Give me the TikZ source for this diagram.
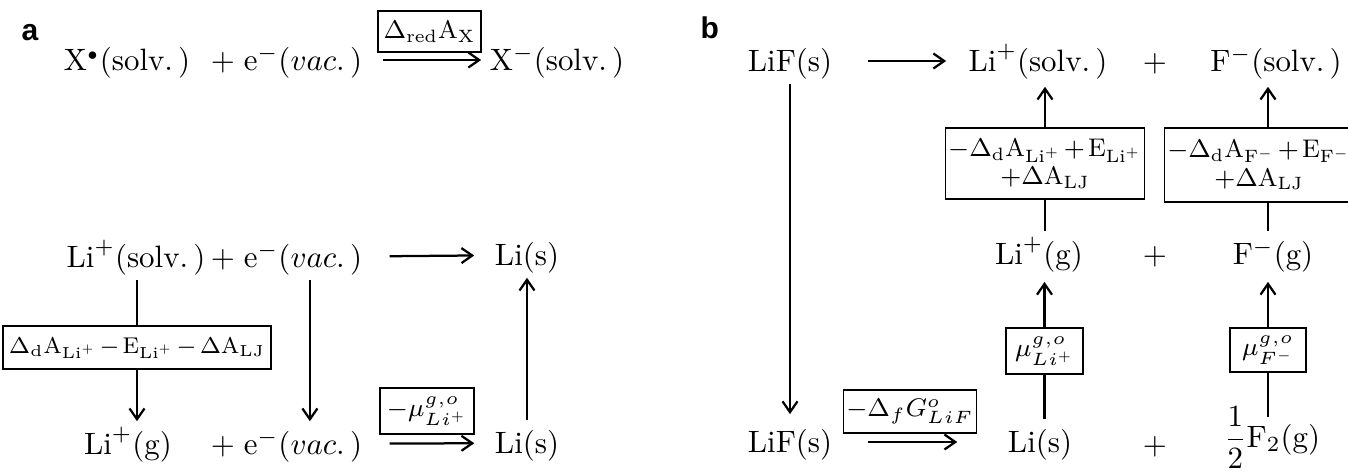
\RequirePackage{fix-cm}
\documentclass[tikz,border=0pt]{standalone}
\usepackage{amsmath}
\usepackage{amssymb}
\usepackage{fontspec}
\newfontfamily\panelfont{Liberation Sans}
\usepackage{tikz}
\usetikzlibrary{arrows.meta}

\begin{document}
\begin{tikzpicture}[x=0.3333pt, y=-0.3333pt, font=\fontsize{10.3}{12.4}\selectfont,
    >={Straight Barb[length=3.6pt,width=5pt]},
    spec/.style={inner xsep=1pt, inner ysep=0.5pt, text height=2.4ex, text depth=0.8ex},
    ebox/.style={draw, line width=0.45pt, inner sep=1pt, align=center,
      font=\fontsize{8.5}{10.5}\selectfont, execute at begin node={\medmuskip=2mu\relax}},
    conn/.style={line width=0.75pt},
    panel/.style={anchor=base west, font=\panelfont\bfseries\fontsize{10}{11}\selectfont}]
  \useasboundingbox (0,0) rectangle (1348,472);
  % a
  \node[panel] (la) at (11,40) {a};
  \node[spec] (xrad) at (127,60) {$\mathrm{X}^{\scriptscriptstyle\bullet}(\mathrm{solv.}\,)$};
  \node[spec] (pa1) at (223,60) {$+$};
  \node[spec] (ea1) at (303,60) {$\mathrm{e}^{-}(vac.\,)$};
  \node[spec] (xan) at (557,60) {$\mathrm{X}^{-}(\mathrm{solv.}\,)$};
  \node[ebox, minimum width=34.3pt, minimum height=13.7pt] (rbox) at (429.5,31.5) {$\Delta_{\mathrm{red}}\mathrm{A}_{\mathrm{X}}$};
  \draw[conn,->,shorten <=5.7pt,shorten >=1.7pt] (ea1) -- (xan);

  \node[spec] (lis) at (136,257) {$\mathrm{Li}^{+}(\mathrm{solv.}\,)$};
  \node[spec] (pa2) at (223,257) {$+$};
  \node[spec] (ea2) at (303,257) {$\mathrm{e}^{-}(vac.\,)$};
  \node[spec] (lim) at (527,255) {$\mathrm{Li(s)}$};
  \draw[conn,->,shorten <=8pt,shorten >=5.7pt] (ea2) -- (lim);

  \node[spec] (lig) at (128,444) {$\mathrm{Li}^{+}(\mathrm{g})$};
  \node[spec] (pa3) at (223,444) {$+$};
  \node[spec] (ea3) at (303,444) {$\mathrm{e}^{-}(vac.\,)$};
  \node[spec] (lib) at (527,443) {$\mathrm{Li(s)}$};
  \node[ebox, minimum width=31.3pt, minimum height=15.3pt] (mubox) at (427,411) {$-\mu^{g,o}_{Li^{+}}$};
  \draw[conn,->,shorten <=8pt,shorten >=5.7pt] (ea3) -- (lib);

  \node[ebox, minimum width=82.3pt, minimum height=14.3pt, inner xsep=2pt, font=\fontsize{7.6}{9}\selectfont] (dbox) at (137,347.5) {$\Delta_{\mathrm{d}}\mathrm{A}_{\mathrm{Li}^{+}}-\mathrm{E}_{\mathrm{Li}^{+}}-\Delta\mathrm{A}_{\mathrm{LJ}}$};
  \draw[conn] (dbox.north |- lis.south) -- (dbox.north);
  \draw[conn,->] (dbox.south) -- (dbox.south |- lig.north);
  \draw[conn,->] ([xshift=2.3pt]ea2.south) -- ([xshift=2.3pt]ea3.north);
  \draw[conn,->] (lib) -- (lim);

  % b
  \node[panel] (lb) at (690,38) {b};
  \node[spec] (lif1) at (790,61) {$\mathrm{LiF(s)}$};
  \node[spec] (lisb) at (1038,61) {$\mathrm{Li}^{+}(\mathrm{solv.}\,)$};
  \node[spec] (pb1) at (1155,61) {$+$};
  \node[spec] (fsb) at (1276,61) {$\mathrm{F}^{-}(\mathrm{solv.}\,)$};
  \node[ebox, minimum width=62.7pt, minimum height=23.7pt] (dbl) at (1045,163.5) {$-\Delta_{\mathrm{d}}\mathrm{A}_{\mathrm{Li}^{+}}+\mathrm{E}_{\mathrm{Li}^{+}}$\\[-1pt]$+\Delta\mathrm{A}_{\mathrm{LJ}}$};
  \node[ebox, minimum width=56.7pt, minimum height=24.7pt] (dbf) at (1259,165) {$-\Delta_{\mathrm{d}}\mathrm{A}_{\mathrm{F}^{-}}+\mathrm{E}_{\mathrm{F}^{-}}$\\[-1pt]$+\Delta\mathrm{A}_{\mathrm{LJ}}$};

  \node[spec] (lig2) at (1039,254) {$\mathrm{Li}^{+}(\mathrm{g})$};
  \node[spec] (pb2) at (1155,254) {$+$};
  \node[spec] (fg) at (1273,254) {$\mathrm{F}^{-}(\mathrm{g})$};
  \node[ebox, minimum width=25.7pt, minimum height=15.3pt] (mbl) at (1044.5,351) {$\mu^{g,o}_{Li^{+}}$};
  \node[ebox, minimum width=25.3pt, minimum height=14.7pt] (mbf) at (1268,350) {$\mu^{g,o}_{F^{-}}$};

  \node[spec] (lif2) at (790,442) {$\mathrm{LiF(s)}$};
  \node[ebox, minimum width=38.7pt, minimum height=14.3pt] (gbox) at (910,411.5) {$-\Delta_{f}G^{o}_{LiF}$};
  \node[spec] (lis2) at (1040,442) {$\mathrm{Li(s)}$};
  \node[spec] (pb3) at (1155,444) {$+$};
  \node[spec] (hf) at (1272,437) {$\dfrac{1}{2}\mathrm{F}_{2}(\mathrm{g})$};

  \draw[conn,->,shorten <=10.7pt,shorten >=6.3pt] (lif1) -- (lisb);
  \draw[conn,->,shorten >=1.7pt] (lif1) -- (lif2);
  \draw[conn,->,shorten <=10.7pt,shorten >=15.7pt] (lif2) -- (lis2);
  \draw[conn] (mbl.south |- lis2.north) -- (mbl.south);
  \draw[conn,->,shorten >=1.7pt] (mbl.north) -- (mbl.north |- lig2.south);
  \draw[conn] (dbl.south |- lig2.north) -- (dbl.south);
  \draw[conn,->,shorten >=1pt] (dbl.north) -- (dbl.north |- lisb.south);
  \draw[conn] ([yshift=-1pt]hf.north -| mbf) -- (mbf.south);
  \draw[conn,->,shorten >=1.7pt] (mbf.north) -- (mbf |- fg.south);
  \draw[conn] (fg.north -| mbf) -- (mbf |- dbf.south);
  \draw[conn,->,shorten >=1pt] (mbf |- dbf.north) -- (mbf |- fsb.south);
\end{tikzpicture}
\end{document}
